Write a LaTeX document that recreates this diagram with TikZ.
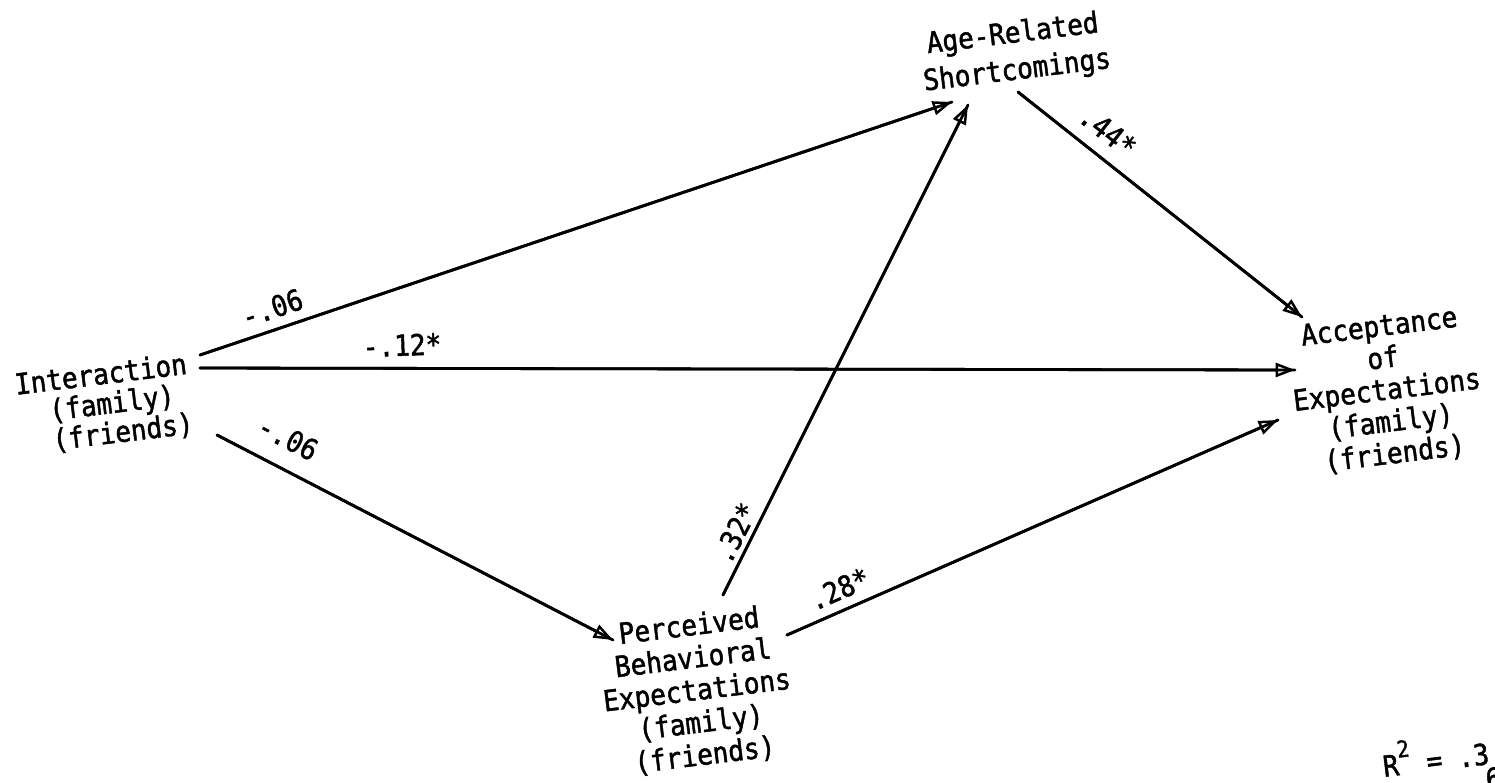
\documentclass[tikz,border=0pt]{standalone}
\usepackage{fontspec}
\setmainfont{DejaVu Sans Mono}[FakeStretch=0.9, FakeBold=1.5]
\usetikzlibrary{arrows.meta}
\begin{document}
\begin{tikzpicture}[x=0.02cm,y=-0.02cm,
  txt/.style={inner sep=0pt, align=center, rotate=7},
  lbl/.style={inner sep=0pt, font=\fontsize{16.5pt}{18pt}\selectfont},
  conn/.style={line width=1.6pt, line cap=round,
    postaction={draw, -{Triangle[open, length=11pt, width=8pt, line width=1.4pt]}}}]
\useasboundingbox[fill=white] (0,0) rectangle (1495,782);

% variables
\node[txt, font=\fontsize{16.5pt}{17pt}\selectfont] (int) at (112,404)
  {Interaction\hspace*{0.3cm}\\(family)\\(friends)\hspace*{-0.3cm}};
\node[txt, font=\fontsize{16.5pt}{21pt}\selectfont] (age) at (1015,53)
  {Age-Related\\Shortcomings};
\node[txt, font=\fontsize{16.5pt}{18.2pt}\selectfont] (acc) at (1387,391)
  {Acceptance\\of\\Expectations\\(family)\\(friends)};
\node[txt, font=\fontsize{16.5pt}{18.5pt}\selectfont] (per) at (697,691)
  {Perceived\\Behavioral\\Expectations\\(family)\\(friends)};

% connector ends
\coordinate (iA) at (200,355);
\coordinate (iC) at (200,368);
\coordinate (iP) at (217,435);
\coordinate (aI) at (952,102);
\coordinate (aP) at (968,105);
\coordinate (aC) at (1018,92);
\coordinate (cA) at (1302,317);
\coordinate (cI) at (1295,370);
\coordinate (cP) at (1278,420);
\coordinate (pI) at (613,640);
\coordinate (pA) at (723,595);
\coordinate (pC) at (787,635);

\draw[conn] (iA) -- (aI);
\draw[conn] (iC) -- (cI);
\draw[conn] (iP) -- (pI);
\draw[conn] (pA) -- (aP);
\draw[conn] (pC) -- (cP);
\draw[conn] (aC) -- (cA);

% coefficients
\node[lbl, rotate=18.6] (l1) at (272,308) {-.06};
\node[lbl, rotate=2] (l2) at (402,345) {-.12*};
\node[lbl, rotate=-27] (l3) at (288,438) {-.06};
\node[lbl, rotate=63] (l4) at (735,533) {.32*};
\node[lbl, rotate=23.6] (l5) at (839,589) {.28*};
\node[lbl, rotate=-38] (l6) at (1108,131) {.44*};

% R squared (cut off at the edge)
\node[lbl, rotate=7, anchor=base west] (r2) at (1384,777)
  {R\raisebox{0.6em}{\fontsize{13pt}{13pt}\selectfont 2} = .3};
\node[lbl, rotate=7, anchor=north west] (r6) at (1484,768) {6};
\end{tikzpicture}
\end{document}
